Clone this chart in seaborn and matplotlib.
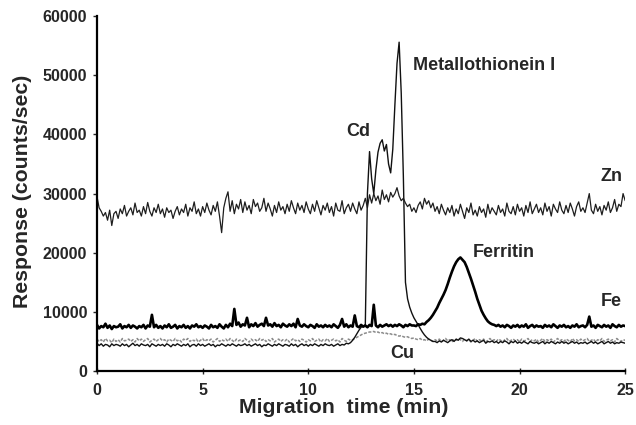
import numpy as np
import pandas as pd
import matplotlib
matplotlib.use("Agg")
import matplotlib.pyplot as plt
import seaborn as sns

# migration time grid (min), one reading every 0.1 min
time_min = np.round(np.arange(0, 251) * 0.1, 1)

# responses, in hundreds of counts/sec
zn = [
    295, 276, 270, 262, 268, 255, 272, 246, 266, 270,
    258, 274, 266, 280, 262, 270, 276, 264, 284, 268,
    272, 262, 278, 266, 285, 270, 262, 276, 268, 282,
    266, 274, 260, 276, 268, 272, 258, 270, 278, 264,
    274, 268, 282, 262, 276, 270, 286, 266, 274, 262,
    278, 268, 284, 272, 264, 280, 270, 286, 262, 234,
    276, 292, 303, 270, 288, 266, 282, 274, 290, 268,
    286, 272, 280, 266, 290, 278, 284, 270, 276, 292,
    270, 284, 274, 262, 280, 268, 286, 272, 278, 266,
    282, 270, 288, 276, 266, 284, 272, 280, 268, 286,
    274, 266, 282, 270, 288, 276, 264, 280, 272, 284,
    268, 278, 262, 284, 272, 270, 288, 266, 276, 282,
    270, 284, 274, 266, 286, 272, 280, 292, 276, 298,
    284, 300, 288, 296, 282, 306, 290, 298, 286, 302,
    294, 300, 310, 296, 288, 292, 284, 278, 282, 270,
    276, 268, 280, 286, 274, 292, 282, 288, 276, 284,
    270, 278, 266, 282, 272, 264, 276, 268, 280, 262,
    274, 266, 282, 270, 258, 276, 268, 284, 264, 272,
    262, 278, 268, 274, 260, 282, 266, 276, 270, 264,
    280, 268, 274, 262, 284, 270, 266, 278, 264, 282,
    270, 276, 262, 280, 268, 286, 266, 274, 282, 268,
    276, 264, 284, 270, 278, 262, 282, 274, 268, 286,
    272, 266, 280, 268, 284, 274, 262, 278, 286, 270,
    276, 268, 284, 300, 272, 266, 282, 270, 278, 264,
    280, 272, 286, 268, 276, 290, 270, 282, 278, 300,
    288,
]

fe = [
    78, 72, 76, 74, 80, 73, 77, 71, 76, 74,
    75, 79, 72, 76, 74, 78, 73, 77, 75, 72,
    76, 74, 78, 72, 77, 75, 95, 74, 78, 73,
    76, 72, 77, 74, 79, 73, 75, 78, 72, 76,
    74, 78, 73, 76, 72, 77, 75, 79, 74, 76,
    73, 77, 75, 72, 78, 74, 76, 73, 79, 75,
    72, 78, 74, 80, 76, 105, 78, 82, 75, 79,
    77, 90, 74, 79, 76, 81, 75, 78, 80, 76,
    90, 77, 79, 75, 81, 76, 78, 74, 80, 77,
    75, 79, 76, 80, 74, 88, 77, 75, 79, 76,
    74, 78, 76, 73, 79, 75, 77, 74, 78, 75,
    77, 74, 79, 76, 73, 78, 88, 75, 79, 74,
    77, 75, 94, 76, 74, 78, 75, 77, 74, 78,
    76, 112, 77, 74, 78, 75, 77, 79, 76, 78,
    75, 78, 76, 79, 77, 74, 78, 76, 79, 77,
    77, 76, 79, 78, 80, 79, 83, 86, 90, 95,
    101, 107, 115, 122, 129, 137, 147, 158, 168, 177,
    184, 189, 192, 188, 184, 176, 166, 156, 145, 134,
    122, 112, 102, 95, 89, 84, 81, 79, 78, 76,
    78, 75, 77, 74, 78, 76, 73, 77, 75, 78,
    74, 77, 75, 79, 73, 76, 78, 74, 77, 75,
    76, 73, 78, 75, 77, 74, 79, 76, 73, 77,
    75, 78, 74, 76, 73, 77, 75, 79, 74, 76,
    77, 74, 78, 92, 75, 77, 73, 78, 76, 74,
    78, 75, 77, 73, 79, 76, 74, 78, 75, 77,
    76,
]

cu = [
    54, 50, 53, 49, 55, 51, 52, 48, 54, 50,
    53, 49, 55, 51, 52, 54, 50, 53, 49, 55,
    51, 54, 50, 53, 55, 49, 52, 54, 50, 53,
    55, 51, 53, 49, 54, 52, 50, 55, 51, 53,
    49, 54, 52, 55, 50, 53, 51, 54, 49, 52,
    55, 50, 53, 51, 54, 49, 52, 55, 50, 53,
    51, 54, 50, 55, 52, 49, 54, 51, 53, 50,
    55, 52, 49, 54, 51, 53, 50, 55, 52, 54,
    50, 53, 51, 55, 49, 52, 54, 50, 53, 51,
    54, 49, 52, 55, 51, 53, 50, 54, 52, 49,
    53, 51, 55, 50, 52, 54, 49, 53, 51, 55,
    50, 52, 54, 51, 53, 49, 55, 52, 50, 54,
    52, 53, 55, 57, 59, 61, 63, 64, 65, 66,
    66, 67, 65, 66, 64, 65, 63, 64, 62, 63,
    61, 62, 60, 59, 60, 58, 57, 58, 56, 55,
    56, 54, 53, 55, 52, 53, 51, 54, 52, 50,
    53, 51, 54, 50, 52, 55, 51, 53, 49, 54,
    52, 55, 53, 50, 54, 51, 53, 49, 52, 55,
    50, 53, 51, 54, 49, 52, 55, 51, 53, 50,
    54, 52, 49, 53, 55, 50, 52, 54, 51, 53,
    49, 54, 51, 52, 55, 50, 53, 51, 54, 49,
    52, 55, 50, 53, 51, 54, 49, 52, 55, 51,
    53, 50, 54, 52, 49, 55, 51, 53, 50, 54,
    51, 53, 55, 50, 52, 54, 49, 53, 51, 55,
    50, 52, 54, 51, 53, 49, 55, 52, 50, 53,
    52,
]

cd = [
    47, 43, 46, 42, 45, 44, 41, 46, 43, 45,
    44, 42, 46, 43, 45, 41, 44, 47, 43, 45,
    42, 46, 44, 43, 45, 41, 46, 44, 42, 45,
    43, 45, 42, 46, 44, 41, 45, 43, 46, 44,
    42, 45, 43, 46, 41, 44, 45, 42, 46, 43,
    45, 42, 44, 46, 43, 45, 41, 44, 43, 46,
    44, 42, 45, 43, 46, 44, 42, 45, 43, 44,
    46, 43, 45, 42, 44, 46, 43, 45, 41, 44,
    43, 46, 44, 42, 45, 43, 46, 44, 42, 45,
    44, 42, 46, 43, 45, 41, 44, 46, 43, 45,
    42, 45, 43, 46, 44, 42, 45, 43, 46, 44,
    43, 45, 42, 44, 46, 43, 45, 44, 47, 46,
    48, 52, 57, 63, 69, 74, 76, 78, 300, 371,
    325, 300, 340, 370, 385, 391, 372, 383, 350, 335,
    375, 450, 520, 556, 470, 330, 150, 122, 108, 98,
    90, 84, 78, 72, 66, 61, 57, 54, 52, 50,
    50, 48, 51, 49, 52, 50, 48, 51, 53, 50,
    54, 52, 56, 55, 53, 51, 54, 50, 52, 49,
    51, 48, 50, 52, 47, 50, 49, 51, 48, 50,
    47, 50, 48, 51, 49, 46, 50, 48, 51, 47,
    49, 47, 50, 48, 46, 50, 48, 47, 49, 46,
    48, 50, 46, 49, 47, 50, 48, 46, 49, 47,
    50, 47, 49, 46, 48, 50, 47, 49, 46, 48,
    47, 49, 46, 48, 50, 47, 49, 46, 48, 50,
    46, 48, 50, 47, 49, 46, 48, 47, 49, 48,
    47,
]

# trace labels: (text, x in min, y in counts/sec)
labels = [
    ("Metallothionein I", 14.95, 51700),
    ("Cd", 11.82, 40500),
    ("Zn", 23.81, 32900),
    ("Ferritin", 17.79, 20000),
    ("Fe", 23.86, 11700),
    ("Cu", 13.87, 2900),
]


def build_frame():
    # long-form table, response back in counts/sec
    frames = []
    for name, vals in [("Cu", cu), ("Cd", cd), ("Fe", fe), ("Zn", zn)]:
        frames.append(pd.DataFrame({
            "time": time_min,
            "response": np.array(vals) * 100,
            "metal": name,
        }))
    return pd.concat(frames, ignore_index=True)


def main():
    df = build_frame()

    sns.set_style("ticks")
    plt.rcParams["font.family"] = ["Liberation Sans", "DejaVu Sans"]
    plt.rcParams["font.weight"] = "bold"

    fig = plt.figure(figsize=(6.36, 4.25), dpi=100)
    ax = fig.add_axes([0.1525, 0.127, 0.8305, 0.835])

    styles = {
        "Cu": dict(color="#8c8c8c", lw=1.1, ls=(0, (2, 1))),
        "Cd": dict(color="#111111", lw=1.0, ls="-"),
        "Fe": dict(color="#000000", lw=1.9, ls="-"),
        "Zn": dict(color="#1e1e1e", lw=0.9, ls="-"),
    }
    for name in ["Cu", "Cd", "Fe", "Zn"]:
        st = styles[name]
        sns.lineplot(data=df[df["metal"] == name], x="time", y="response",
                     ax=ax, color=st["color"], linewidth=st["lw"],
                     linestyle=st["ls"], errorbar=None, sort=True)

    ax.set_xlim(0, 25)
    ax.set_ylim(0, 60000)
    ax.set_xticks([0, 5, 10, 15, 20, 25])
    ax.set_yticks(range(0, 60001, 10000))

    sns.despine(ax=ax)
    for side in ["left", "bottom"]:
        ax.spines[side].set_linewidth(1.6)
        ax.spines[side].set_color("black")

    ax.tick_params(axis="x", direction="inout", length=5, width=1, pad=6,
                   labelsize=11.5)
    ax.tick_params(axis="y", direction="out", length=3, width=1, pad=4,
                   labelsize=11.5)
    for lab in ax.get_xticklabels() + ax.get_yticklabels():
        lab.set_fontweight("bold")

    ax.set_xlabel("Migration  time (min)", fontsize=15.3, fontweight="bold")
    ax.set_ylabel("Response (counts/sec)", fontsize=15.3, fontweight="bold")
    ax.xaxis.set_label_coords(0.468, -0.075)
    ax.yaxis.set_label_coords(-0.123, 0.507)

    for text, x, y in labels:
        ax.text(x, y, text, fontsize=13, fontweight="bold",
                ha="left", va="center")

    fig.savefig("out.png", dpi=100)


if __name__ == "__main__":
    main()
